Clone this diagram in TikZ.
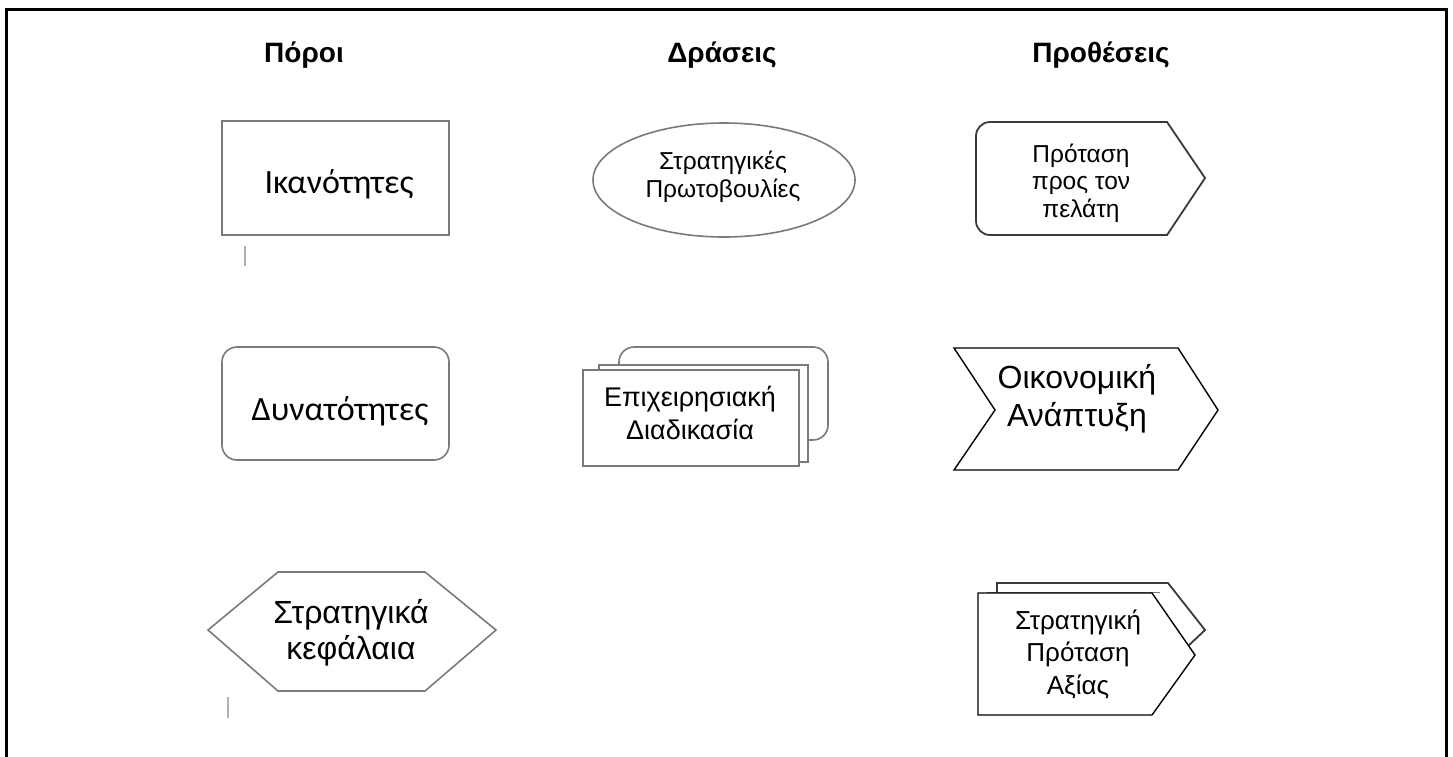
\documentclass[tikz,border=0pt]{standalone}
\usepackage{fontspec}
\setmainfont{Liberation Sans}
\newfontfamily\calib{Carlito}
\usetikzlibrary{shapes.geometric}
\definecolor{edgegray}{HTML}{7A7A7A}
\definecolor{darkedge}{HTML}{3A3A3A}
\definecolor{ticky}{HTML}{B0B0B0}
\tikzset{
  header/.style={font=\fontsize{28}{32}\selectfont\bfseries, anchor=center},
  bigtext/.style={font=\fontsize{32}{37}\selectfont, align=center, anchor=center},
  calibtext/.style={font=\fontsize{34}{38}\selectfont\calib, anchor=center},
  midtext/.style={font=\fontsize{24.5}{27.5}\selectfont, align=center, anchor=center},
  boxtext/.style={font=\fontsize{27}{33}\selectfont, align=center, anchor=center},
  grayline/.style={draw=edgegray, line width=1.6pt, fill=white},
  blackline/.style={draw=black, line width=1.4pt, fill=white},
  darkline/.style={draw=darkedge, line width=1.8pt, fill=white},
  tick/.style={draw=ticky, line width=1.2pt},
}
\begin{document}
\begin{tikzpicture}[x=1pt,y=-1pt]
\useasboundingbox (0,0) rectangle (1453,756);
\begin{scope}
\clip (0,0) rectangle (1453,756);
% outer frame
\draw[line width=3pt, black] (6,770) -- (6,9) -- (1446,9) -- (1446,770);
\end{scope}

% column headers
\node[header] (hres) at (304,55) {Πόροι};
\node[header] (hact) at (722,55) {Δράσεις};
\node[header] (hint) at (1101,55) {Προθέσεις};

% --- Resources column ---
\node[grayline, rectangle, minimum width=227, minimum height=114, inner sep=0pt] (ikan) at (335.5,178) {};
\node[calibtext] (ikant) at (339,184) {Ικανότητες};
\draw[tick] (245,246) -- (245,266);

\node[grayline, rectangle, rounded corners=15pt, minimum width=227, minimum height=113, inner sep=0pt] (dyn) at (335.5,403.5) {};
\node[calibtext] (dynt) at (340,411) {Δυνατότητες};

\draw[grayline] (278,572) -- (425,572) -- (496,630) -- (425,691) -- (278,691) -- (208,630) -- cycle;
\node[bigtext, font=\fontsize{32}{36}\selectfont] (kef) at (351,633) {Στρατηγικά\\κεφάλαια};
\draw[tick] (228,697) -- (228,718);

% --- Actions column ---
\draw[draw=edgegray, line width=1pt] (600,170) arc[start angle=185, end angle=75, x radius=130, y radius=57];
\node[grayline, ellipse, minimum width=262, minimum height=114, inner sep=0pt] (strat) at (724,180) {};
\node[midtext] (stratt) at (723,177) {Στρατηγικές\\Πρωτοβουλίες};

\draw[grayline, rounded corners=15pt] (619,347) rectangle (828,440);
\draw[grayline, line width=1.2pt] (599,365) rectangle (808,462);
\node[grayline, rectangle, minimum width=216, minimum height=96, inner sep=0pt] (proc) at (691,418) {};
\node[boxtext] (proct) at (690,413) {Επιχειρησιακή\\Διαδικασία};

% --- Intentions column ---
\draw[darkline, rounded corners=14pt] (1167,122) -- (976,122) -- (976,235) -- (1167,235);
\draw[darkline] (1165,235) -- (1167,235) -- (1205,178) -- (1167,122) -- (1165,122);
\node[midtext] (prot) at (1081,183) {Πρόταση\\προς τον\\πελάτη};

\draw[blackline] (954,348) -- (1178,348) -- (1218,410) -- (1178,470) -- (954,470) -- (995,410) -- cycle;
\node[bigtext, font=\fontsize{32}{38}\selectfont] (oik) at (1077,399) {Οικονομική\\Ανάπτυξη};

\draw[draw=darkedge, line width=1.8pt, fill=white] (997,583) -- (1168,583) -- (1205,630) -- (1186,648) -- (1150,648) -- (1150,600) -- (997,600) -- cycle;
\draw[draw=edgegray, line width=1pt] (987,592) -- (1160,592);
\draw[blackline] (978,593) -- (1152,593) -- (1195,655) -- (1152,715) -- (978,715) -- cycle;
\node[boxtext, font=\fontsize{26}{32.5}\selectfont] (spa) at (1078,654) {Στρατηγική\\Πρόταση\\Αξίας};
\end{tikzpicture}
\end{document}
